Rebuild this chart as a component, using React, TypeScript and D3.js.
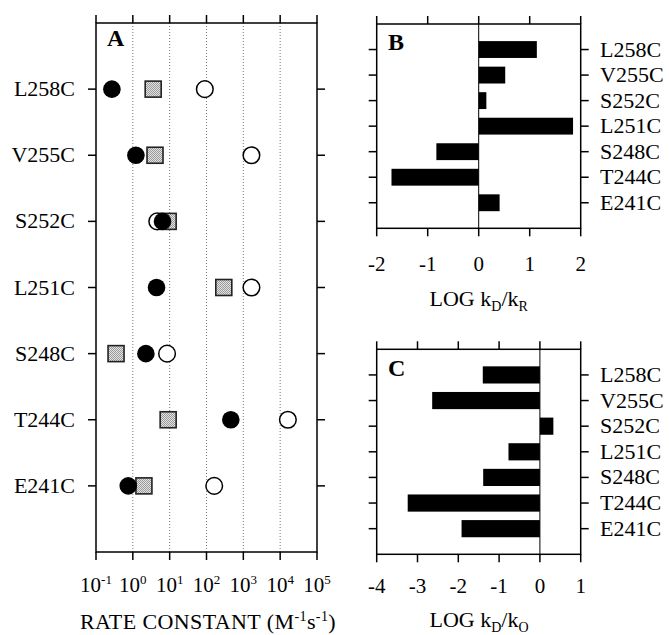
import React from "react";
import * as d3 from "d3";

const mutants = ["L258C", "V255C", "S252C", "L251C", "S248C", "T244C", "E241C"];
// Rate constants (M^-1 s^-1)
const kR = [0.27, 1.21, 6.4, 4.4, 2.26, 457, 0.75]; // filled circles
const kD = [3.57, 4.0, 9.1, 295, 0.35, 9.1, 2.0]; // shaded squares
const kO = [90, 1660, 4.6, 1660, 8.5, 16200, 162]; // open circles
const logKdKr = [1.14, 0.52, 0.15, 1.85, -0.83, -1.71, 0.41];
const logKdKo = [-1.4, -2.64, 0.33, -0.77, -1.39, -3.24, -1.92];
const rateExps = [-1, 0, 1, 2, 3, 4, 5];
const bTicks = [-2, -1, 0, 1, 2];
const cTicks = [-4, -3, -2, -1, 0, 1];

const FONT = "'Liberation Serif', 'Times New Roman', serif";
const AX = 1.5;
const TL = 8;

function Frame({ x0, x1, y0, y1, xt, yt }: { x0: number; x1: number; y0: number; y1: number; xt: number[]; yt: number[] }) {
  return (
    <g stroke="#000" strokeWidth={AX} fill="none">
      <rect x={x0} y={y0} width={x1 - x0} height={y1 - y0} />
      {xt.map((x, i) => (
        <g key={"x" + i}>
          <line x1={x} x2={x} y1={y0} y2={y0 - TL} />
          <line x1={x} x2={x} y1={y1} y2={y1 + TL} />
        </g>
      ))}
      {yt.map((y, i) => (
        <g key={"y" + i}>
          <line x1={x0} x2={x0 - TL} y1={y} y2={y} />
          <line x1={x1} x2={x1 + TL} y1={y} y2={y} />
        </g>
      ))}
    </g>
  );
}

export default function App() {
  // Panel A
  const ax0 = 96, ax1 = 317, ay0 = 23, ay1 = 552;
  const xA = d3.scaleLog().domain([0.1, 1e5]).range([ax0, ax1]);
  const yA = d3.scalePoint<string>().domain(mutants).range([ay0, ay1]).padding(1);
  const aTicks = rateExps.map((e) => Math.pow(10, e));

  // Panel B
  const bx0 = 376.7, bx1 = 580.7, by0 = 24, by1 = 228.3;
  const xB = d3.scaleLinear().domain([-2, 2]).range([bx0, bx1]);
  const yB = d3.scalePoint<string>().domain(mutants).range([by0, by1]).padding(1);

  // Panel C
  const cx0 = 376.7, cx1 = 580.7, cy0 = 349.3, cy1 = 554.3;
  const xC = d3.scaleLinear().domain([-4, 1]).range([cx0, cx1]);
  const yC = d3.scalePoint<string>().domain(mutants).range([cy0, cy1]).padding(1);

  const barHB = yB.step() * 0.66;
  const barHC = yC.step() * 0.67;

  return (
    <svg width={669} height={635} style={{ position: "absolute", left: 0, top: 0, background: "#fff" }} fontFamily={FONT}>
      <defs>
        <pattern id="stip" width="2" height="2" patternUnits="userSpaceOnUse">
          <rect width="2" height="2" fill="#e2e2e2" />
          <rect x="0" y="0" width="1" height="1" fill="#9a9a9a" />
          <rect x="1" y="1" width="1" height="1" fill="#9a9a9a" />
        </pattern>
      </defs>
      <rect width={669} height={635} fill="#fff" />

      {/* ===== Panel A ===== */}
      {aTicks.slice(1, -1).map((t, i) => (
        <line key={i} x1={xA(t)} x2={xA(t)} y1={ay0} y2={ay1} stroke="#777" strokeWidth={1} strokeDasharray="1,2" />
      ))}
      <Frame x0={ax0} x1={ax1} y0={ay0} y1={ay1} xt={aTicks.map((t) => xA(t))} yt={mutants.map((m) => yA(m)!)} />
      {mutants.map((m) => (
        <text key={m} x={75} y={yA(m)! + 7} textAnchor="end" fontSize={22}>{m}</text>
      ))}
      {/* markers: squares, open circles, filled circles */}
      {mutants.map((m, i) => (
        <rect key={"s" + m} x={xA(kD[i]) - 8} y={yA(m)! - 8} width={16} height={16} fill="url(#stip)" stroke="#222" strokeWidth={1.6} />
      ))}
      {mutants.map((m, i) => (
        <circle key={"o" + m} cx={xA(kO[i])} cy={yA(m)!} r={8.3} fill="#fff" stroke="#000" strokeWidth={1.5} />
      ))}
      {mutants.map((m, i) => (
        <circle key={"f" + m} cx={xA(kR[i])} cy={yA(m)!} r={8.8} fill="#000" />
      ))}
      <text x={107} y={46} fontSize={24} fontWeight="bold">A</text>
      {rateExps.map((e) => (
        <text key={e} x={xA(Math.pow(10, e))} y={592} textAnchor="middle" fontSize={21}>
          10<tspan fontSize={13} dy={-8}>{e}</tspan>
        </text>
      ))}
      <text x={208} y={629} textAnchor="middle" fontSize={22} letterSpacing={0.4}>
        RATE CONSTANT (M<tspan fontSize={14} dy={-8}>-1</tspan>
        <tspan dy={8}>s</tspan>
        <tspan fontSize={14} dy={-8}>-1</tspan>
        <tspan dy={8}>)</tspan>
      </text>

      {/* ===== Panel B ===== */}
      <Frame x0={bx0} x1={bx1} y0={by0} y1={by1} xt={bTicks.map((t) => xB(t))} yt={mutants.map((m) => yB(m)!)} />
      {mutants.map((m, i) => (
        <rect key={m} x={Math.min(xB(0), xB(logKdKr[i]))} y={yB(m)! - barHB / 2} width={Math.abs(xB(logKdKr[i]) - xB(0))} height={barHB} fill="#000" />
      ))}
      <line x1={xB(0)} x2={xB(0)} y1={by0} y2={by1} stroke="#000" strokeWidth={1} />
      {mutants.map((m) => (
        <text key={m} x={600} y={yB(m)! + 7} fontSize={22}>{m}</text>
      ))}
      <text x={388} y={50} fontSize={24} fontWeight="bold">B</text>
      {bTicks.map((t) => (
        <text key={t} x={xB(t)} y={271} textAnchor="middle" fontSize={21}>{t < 0 ? "-" + Math.abs(t) : String(t)}</text>
      ))}
      <text x={478.7} y={306} textAnchor="middle" fontSize={22}>
        LOG k<tspan fontSize={14} dy={5}>D</tspan>
        <tspan dy={-5}>/k</tspan>
        <tspan fontSize={14} dy={5}>R</tspan>
      </text>

      {/* ===== Panel C ===== */}
      <Frame x0={cx0} x1={cx1} y0={cy0} y1={cy1} xt={cTicks.map((t) => xC(t))} yt={mutants.map((m) => yC(m)!)} />
      {mutants.map((m, i) => (
        <rect key={m} x={Math.min(xC(0), xC(logKdKo[i]))} y={yC(m)! - barHC / 2} width={Math.abs(xC(logKdKo[i]) - xC(0))} height={barHC} fill="#000" />
      ))}
      <line x1={xC(0)} x2={xC(0)} y1={cy0} y2={cy1} stroke="#000" strokeWidth={1} />
      {mutants.map((m) => (
        <text key={m} x={600} y={yC(m)! + 7} fontSize={22}>{m}</text>
      ))}
      <text x={388} y={376} fontSize={24} fontWeight="bold">C</text>
      {cTicks.map((t) => (
        <text key={t} x={xC(t)} y={593} textAnchor="middle" fontSize={21}>{t < 0 ? "-" + Math.abs(t) : String(t)}</text>
      ))}
      <text x={479} y={627} textAnchor="middle" fontSize={22}>
        LOG k<tspan fontSize={14} dy={5}>D</tspan>
        <tspan dy={-5}>/k</tspan>
        <tspan fontSize={14} dy={5}>O</tspan>
      </text>
    </svg>
  );
}
